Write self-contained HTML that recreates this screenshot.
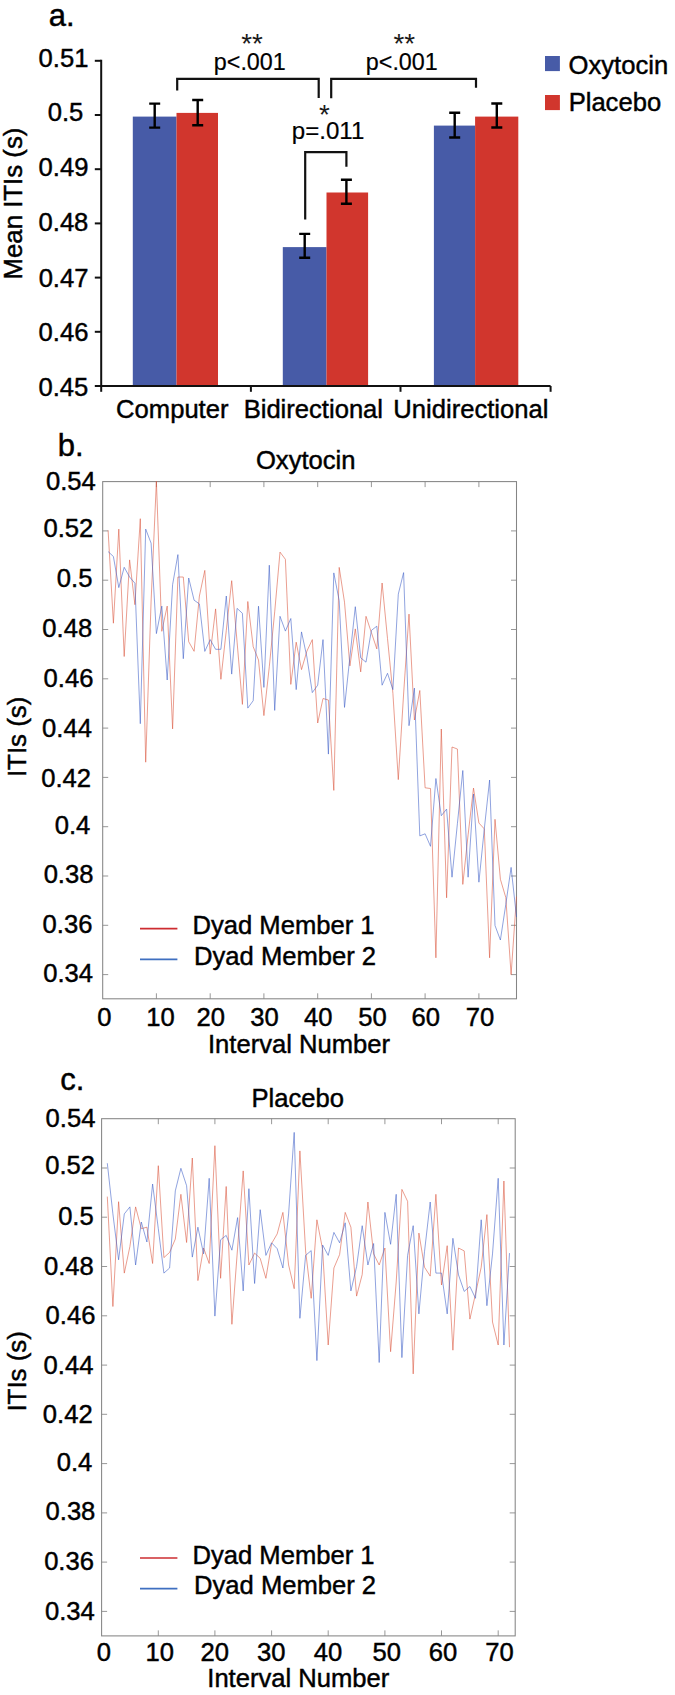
<!DOCTYPE html>
<html lang="en"><head><meta charset="utf-8"><title>Figure</title>
<style>html,body{margin:0;padding:0;background:#fff}svg{display:block}text{font-family:"Liberation Sans", Arial, Helvetica, sans-serif;fill:#000;stroke:#000;stroke-width:.45px}.m{stroke-width:.2px}.s{stroke:none;fill:#1a1a1a}</style></head><body>
<svg width="675" height="1695" viewBox="0 0 675 1695">
<rect width="675" height="1695" fill="#fff"/>
<g id="panel-a">
<text x="48.83" y="26.0" font-size="31">a.</text>
<rect x="132.8" y="116.6" width="43.7" height="269.4" fill="#475ba7"/>
<rect x="176.5" y="112.9" width="41.5" height="273.1" fill="#d1362d"/>
<rect x="282.8" y="247.1" width="43.7" height="138.9" fill="#475ba7"/>
<rect x="326.5" y="192.5" width="41.6" height="193.5" fill="#d1362d"/>
<rect x="433.9" y="125.6" width="41.2" height="260.4" fill="#475ba7"/>
<rect x="475.1" y="116.6" width="43.2" height="269.4" fill="#d1362d"/>
<path d="M154.7 103.6V127.6M149.2 103.6H160.2M149.2 127.6H160.2" stroke="#000" stroke-width="2.4" fill="none"/>
<path d="M197.7 100V125.3M192.2 100H203.2M192.2 125.3H203.2" stroke="#000" stroke-width="2.4" fill="none"/>
<path d="M304.7 233.9V257.8M299.2 233.9H310.2M299.2 257.8H310.2" stroke="#000" stroke-width="2.4" fill="none"/>
<path d="M346.4 179.7V203.7M340.9 179.7H351.9M340.9 203.7H351.9" stroke="#000" stroke-width="2.4" fill="none"/>
<path d="M454.7 112.8V137.5M449.2 112.8H460.2M449.2 137.5H460.2" stroke="#000" stroke-width="2.4" fill="none"/>
<path d="M496.8 103.5V127.5M491.3 103.5H502.3M491.3 127.5H502.3" stroke="#000" stroke-width="2.4" fill="none"/>
<path d="M101.2 59.8V386.0H550.6" stroke="#111" stroke-width="2" fill="none"/>
<path d="M94.8 386.0H101.2" stroke="#111" stroke-width="2"/>
<text x="38.53" y="395.5" font-size="25.6">0.45</text>
<path d="M94.8 331.8H101.2" stroke="#111" stroke-width="2"/>
<text x="38.55" y="341.0" font-size="25.6">0.46</text>
<path d="M94.8 277.6H101.2" stroke="#111" stroke-width="2"/>
<text x="38.63" y="286.6" font-size="25.6">0.47</text>
<path d="M94.8 223.4H101.2" stroke="#111" stroke-width="2"/>
<text x="38.54" y="230.9" font-size="25.6">0.48</text>
<path d="M94.8 169.2H101.2" stroke="#111" stroke-width="2"/>
<text x="38.59" y="175.8" font-size="25.6">0.49</text>
<path d="M94.8 115.0H101.2" stroke="#111" stroke-width="2"/>
<text x="47.69" y="121.0" font-size="25.6">0.5</text>
<path d="M94.8 60.8H101.2" stroke="#111" stroke-width="2"/>
<text x="38.61" y="66.9" font-size="25.6">0.51</text>
<path d="M101.2 386.0V391.8" stroke="#111" stroke-width="2"/>
<path d="M250.9 386.0V391.8" stroke="#111" stroke-width="2"/>
<path d="M400.5 386.0V391.8" stroke="#111" stroke-width="2"/>
<path d="M550.6 386.0V391.8" stroke="#111" stroke-width="2"/>
<text x="116.11" y="417.9" font-size="25.6">Computer</text>
<text x="243.63" y="417.9" font-size="25.6">Bidirectional</text>
<text x="393.37" y="417.9" font-size="25.6">Unidirectional</text>
<text transform="translate(21.8,279.5) rotate(-90)" font-size="25.8">Mean ITIs (s)</text>
<path d="M177.2 90.5V78.9H318.7V98" stroke="#111" stroke-width="2.2" fill="none"/>
<path d="M331.2 98.3V78.9H476V87.8" stroke="#111" stroke-width="2.2" fill="none"/>
<path d="M305.2 219.6V152.2H346.4V166.8" stroke="#111" stroke-width="2.2" fill="none"/>
<text x="252.1" y="52.8" font-size="27.8" text-anchor="middle" class="s">**</text>
<text x="249.8" y="69.6" font-size="24.5" class="m" text-anchor="middle" textLength="72" lengthAdjust="spacingAndGlyphs">p&lt;.001</text>
<text x="404.3" y="52.8" font-size="27.8" text-anchor="middle" class="s">**</text>
<text x="401.8" y="69.6" font-size="24.5" class="m" text-anchor="middle" textLength="72" lengthAdjust="spacingAndGlyphs">p&lt;.001</text>
<text x="324.3" y="124.4" font-size="27.8" text-anchor="middle" class="s">*</text>
<text x="328.1" y="138.6" font-size="24.5" class="m" text-anchor="middle" textLength="72.6" lengthAdjust="spacingAndGlyphs">p=.011</text>
<rect x="545" y="56" width="14.9" height="15.1" fill="#475ba7"/>
<rect x="545" y="95" width="14.9" height="15.1" fill="#d1362d"/>
<text x="568.58" y="73.6" font-size="25.6">Oxytocin</text>
<text x="568.63" y="110.9" font-size="25.6">Placebo</text>
</g>
<g id="panel-b">
<text x="57.69" y="456.4" font-size="31">b.</text>
<text x="255.93" y="468.6" font-size="25.6">Oxytocin</text>
<rect x="102.7" y="481.6" width="413.8" height="517.2" fill="none" stroke="#858585" stroke-width="1.05"/>
<path d="M102.7 530.9h5.5M516.5 530.9h-5.5" stroke="#858585" stroke-width="0.85"/>
<path d="M102.7 580.2h5.5M516.5 580.2h-5.5" stroke="#858585" stroke-width="0.85"/>
<path d="M102.7 629.5h5.5M516.5 629.5h-5.5" stroke="#858585" stroke-width="0.85"/>
<path d="M102.7 678.8h5.5M516.5 678.8h-5.5" stroke="#858585" stroke-width="0.85"/>
<path d="M102.7 728.1h5.5M516.5 728.1h-5.5" stroke="#858585" stroke-width="0.85"/>
<path d="M102.7 777.4h5.5M516.5 777.4h-5.5" stroke="#858585" stroke-width="0.85"/>
<path d="M102.7 826.7h5.5M516.5 826.7h-5.5" stroke="#858585" stroke-width="0.85"/>
<path d="M102.7 876.0h5.5M516.5 876.0h-5.5" stroke="#858585" stroke-width="0.85"/>
<path d="M102.7 925.3h5.5M516.5 925.3h-5.5" stroke="#858585" stroke-width="0.85"/>
<path d="M102.7 974.6h5.5M516.5 974.6h-5.5" stroke="#858585" stroke-width="0.85"/>
<text x="46.01" y="489.9" font-size="25.6">0.54</text>
<text x="43.43" y="536.7" font-size="25.6">0.52</text>
<text x="56.79" y="587.1" font-size="25.6">0.5</text>
<text x="42.34" y="636.9" font-size="25.6">0.48</text>
<text x="43.55" y="687.3" font-size="25.6">0.46</text>
<text x="42.11" y="737.1" font-size="25.6">0.44</text>
<text x="41.23" y="786.5" font-size="25.6">0.42</text>
<text x="54.78" y="833.5" font-size="25.6">0.4</text>
<text x="43.64" y="883.3" font-size="25.6">0.38</text>
<text x="42.60" y="932.8" font-size="25.6">0.36</text>
<text x="43.16" y="982.2" font-size="25.6">0.34</text>
<path d="M156.4 998.8v-5.5M156.4 481.6v5.5" stroke="#858585" stroke-width="0.85"/>
<path d="M210.2 998.8v-5.5M210.2 481.6v5.5" stroke="#858585" stroke-width="0.85"/>
<path d="M263.9 998.8v-5.5M263.9 481.6v5.5" stroke="#858585" stroke-width="0.85"/>
<path d="M317.7 998.8v-5.5M317.7 481.6v5.5" stroke="#858585" stroke-width="0.85"/>
<path d="M371.4 998.8v-5.5M371.4 481.6v5.5" stroke="#858585" stroke-width="0.85"/>
<path d="M425.1 998.8v-5.5M425.1 481.6v5.5" stroke="#858585" stroke-width="0.85"/>
<path d="M478.9 998.8v-5.5M478.9 481.6v5.5" stroke="#858585" stroke-width="0.85"/>
<text x="97.18" y="1026.4" font-size="25.6">0</text>
<text x="146.29" y="1026.4" font-size="25.6">10</text>
<text x="196.52" y="1026.4" font-size="25.6">20</text>
<text x="250.28" y="1026.4" font-size="25.6">30</text>
<text x="303.97" y="1026.4" font-size="25.6">40</text>
<text x="358.25" y="1026.4" font-size="25.6">50</text>
<text x="411.61" y="1026.4" font-size="25.6">60</text>
<text x="465.81" y="1026.4" font-size="25.6">70</text>
<polyline points="108.1,530.3 113.4,623.2 118.8,529.1 124.2,656.5 129.6,559.9 134.9,604.7 140.3,518.7 145.7,762.2 151.1,601.0 156.4,481.3 161.8,631.3 167.2,606.1 172.6,728.9 177.9,577.0 183.3,577.0 188.7,641.7 194.1,651.3 199.4,596.0 204.8,570.4 210.2,654.1 215.6,608.9 220.9,679.3 226.3,630.4 231.7,580.7 237.1,642.2 242.4,704.4 247.8,601.5 253.2,646.7 258.5,660.0 263.9,715.6 269.3,666.7 274.7,611.9 280.0,552.1 285.4,559.3 290.8,684.4 296.2,642.2 301.5,669.6 306.9,651.1 312.3,639.6 317.7,723.0 323.0,698.5 328.4,700.0 333.8,790.4 339.2,567.4 344.5,602.2 349.9,665.9 355.3,628.9 360.7,671.9 366.0,616.3 371.4,632.6 376.8,648.9 382.1,583.0 387.5,638.5 392.9,693.3 398.3,779.6 403.6,694.0 409.0,614.1 414.4,720.0 419.8,690.5 425.1,787.8 430.5,788.5 435.9,957.8 441.3,729.0 446.6,897.8 452.0,747.0 457.4,749.0 462.8,884.4 468.1,834.8 473.5,788.1 478.9,823.0 484.3,828.9 489.6,957.8 495.0,819.3 500.4,879.3 505.8,897.5 511.1,974.6 516.5,896.6" fill="none" stroke="#db573f" stroke-width="0.58" stroke-linejoin="miter"/>
<polyline points="108.1,551.6 113.4,556.5 118.8,587.6 124.2,567.3 129.6,577.0 134.9,583.2 140.3,723.7 145.7,529.1 151.1,543.2 156.4,633.6 161.8,606.1 167.2,680.0 172.6,584.7 177.9,554.6 183.3,658.7 188.7,578.0 194.1,600.2 199.4,603.9 204.8,651.4 210.2,639.6 215.6,649.3 220.9,649.3 226.3,596.0 231.7,674.1 237.1,608.4 242.4,613.3 247.8,708.1 253.2,700.7 258.5,606.2 263.9,687.4 269.3,565.2 274.7,710.4 280.0,616.3 285.4,631.1 290.8,618.5 296.2,689.6 301.5,631.9 306.9,657.0 312.3,692.6 317.7,685.2 323.0,639.6 328.4,754.1 333.8,572.9 339.2,600.7 344.5,707.4 349.9,657.0 355.3,606.7 360.7,657.8 366.0,662.2 371.4,630.4 376.8,626.2 382.1,685.2 387.5,673.3 392.9,689.6 398.3,594.1 403.6,572.6 409.0,725.7 414.4,688.1 419.8,835.9 425.1,833.8 430.5,846.3 435.9,778.5 441.3,815.7 446.6,809.1 452.0,877.2 457.4,823.7 462.8,770.5 468.1,877.2 473.5,794.0 478.9,882.2 484.3,828.9 489.6,780.0 495.0,925.5 500.4,940.0 505.8,904.4 511.1,867.4 516.5,917.0" fill="none" stroke="#3f60c8" stroke-width="0.58" stroke-linejoin="miter"/>
<text x="207.97" y="1052.6" font-size="25.6">Interval Number</text>
<text transform="translate(26.2,777.1) rotate(-90)" font-size="25.9">ITIs (s)</text>
<path d="M140 928.6H177.4" stroke="#cd2c31" stroke-width="1.6"/>
<path d="M140 959.4H177.4" stroke="#3f6fc0" stroke-width="1.6"/>
<text x="192.52" y="934.4" font-size="25.6">Dyad Member 1</text>
<text x="194.04" y="965.0" font-size="25.6">Dyad Member 2</text>
</g>
<g id="panel-c">
<text x="60.25" y="1090.4" font-size="31">c.</text>
<text x="251.43" y="1107.0" font-size="25.6">Placebo</text>
<rect x="101.6" y="1118.7" width="413.6" height="517.2" fill="none" stroke="#858585" stroke-width="1.05"/>
<path d="M101.6 1168.0h5.5M515.2 1168.0h-5.5" stroke="#858585" stroke-width="0.85"/>
<path d="M101.6 1217.2h5.5M515.2 1217.2h-5.5" stroke="#858585" stroke-width="0.85"/>
<path d="M101.6 1266.5h5.5M515.2 1266.5h-5.5" stroke="#858585" stroke-width="0.85"/>
<path d="M101.6 1315.8h5.5M515.2 1315.8h-5.5" stroke="#858585" stroke-width="0.85"/>
<path d="M101.6 1365.1h5.5M515.2 1365.1h-5.5" stroke="#858585" stroke-width="0.85"/>
<path d="M101.6 1414.3h5.5M515.2 1414.3h-5.5" stroke="#858585" stroke-width="0.85"/>
<path d="M101.6 1463.6h5.5M515.2 1463.6h-5.5" stroke="#858585" stroke-width="0.85"/>
<path d="M101.6 1512.9h5.5M515.2 1512.9h-5.5" stroke="#858585" stroke-width="0.85"/>
<path d="M101.6 1562.1h5.5M515.2 1562.1h-5.5" stroke="#858585" stroke-width="0.85"/>
<path d="M101.6 1611.4h5.5M515.2 1611.4h-5.5" stroke="#858585" stroke-width="0.85"/>
<text x="45.56" y="1126.6" font-size="25.6">0.54</text>
<text x="45.23" y="1173.6" font-size="25.6">0.52</text>
<text x="58.14" y="1224.6" font-size="25.6">0.5</text>
<text x="43.94" y="1275.3" font-size="25.6">0.48</text>
<text x="45.55" y="1324.4" font-size="25.6">0.46</text>
<text x="43.61" y="1374.0" font-size="25.6">0.44</text>
<text x="42.83" y="1423.4" font-size="25.6">0.42</text>
<text x="56.73" y="1470.6" font-size="25.6">0.4</text>
<text x="45.54" y="1520.1" font-size="25.6">0.38</text>
<text x="44.15" y="1569.7" font-size="25.6">0.36</text>
<text x="44.96" y="1619.6" font-size="25.6">0.34</text>
<path d="M158.3 1635.9v-5.5M158.3 1118.7v5.5" stroke="#858585" stroke-width="0.85"/>
<path d="M214.9 1635.9v-5.5M214.9 1118.7v5.5" stroke="#858585" stroke-width="0.85"/>
<path d="M271.6 1635.9v-5.5M271.6 1118.7v5.5" stroke="#858585" stroke-width="0.85"/>
<path d="M328.2 1635.9v-5.5M328.2 1118.7v5.5" stroke="#858585" stroke-width="0.85"/>
<path d="M384.9 1635.9v-5.5M384.9 1118.7v5.5" stroke="#858585" stroke-width="0.85"/>
<path d="M441.5 1635.9v-5.5M441.5 1118.7v5.5" stroke="#858585" stroke-width="0.85"/>
<path d="M498.2 1635.9v-5.5M498.2 1118.7v5.5" stroke="#858585" stroke-width="0.85"/>
<text x="96.68" y="1661.4" font-size="25.6">0</text>
<text x="145.59" y="1661.4" font-size="25.6">10</text>
<text x="200.62" y="1661.4" font-size="25.6">20</text>
<text x="256.97" y="1661.4" font-size="25.6">30</text>
<text x="313.67" y="1661.4" font-size="25.6">40</text>
<text x="372.45" y="1661.4" font-size="25.6">50</text>
<text x="428.71" y="1661.4" font-size="25.6">60</text>
<text x="485.31" y="1661.4" font-size="25.6">70</text>
<polyline points="107.3,1196.6 112.9,1306.5 118.6,1201.7 124.3,1273.1 129.9,1246.5 135.6,1206.9 141.3,1228.7 146.9,1227.2 152.6,1263.5 158.3,1165.7 163.9,1257.6 169.6,1252.4 175.3,1239.1 180.9,1194.3 186.6,1242.5 192.3,1158.0 197.9,1280.6 203.6,1248.0 209.2,1263.5 214.9,1145.7 220.6,1278.3 226.2,1186.5 231.9,1324.3 237.6,1248.0 243.2,1170.9 248.9,1265.0 254.6,1253.1 260.2,1258.3 265.9,1278.3 271.6,1243.5 277.2,1233.9 282.9,1212.4 288.6,1265.0 294.2,1288.7 299.9,1150.9 305.6,1250.9 311.2,1298.3 316.9,1219.8 322.6,1249.4 328.2,1345.0 333.9,1268.0 339.6,1254.6 345.2,1212.4 350.9,1227.2 356.6,1296.1 362.2,1274.6 367.9,1202.0 373.6,1253.9 379.2,1265.0 384.9,1248.0 390.6,1351.7 396.2,1282.0 401.9,1189.4 407.6,1201.3 413.2,1373.9 418.9,1233.1 424.5,1267.2 430.2,1276.1 435.9,1194.3 441.5,1285.0 447.2,1245.7 452.9,1350.2 458.5,1248.0 464.2,1250.9 469.9,1319.1 475.5,1293.9 481.2,1267.2 486.9,1214.6 492.5,1322.0 498.2,1345.0 503.9,1181.0 509.5,1347.2" fill="none" stroke="#db573f" stroke-width="0.58" stroke-linejoin="miter"/>
<polyline points="107.3,1163.2 112.9,1213.9 118.6,1259.8 124.3,1213.9 129.9,1206.9 135.6,1265.0 141.3,1222.0 146.9,1242.0 152.6,1184.0 158.3,1228.7 163.9,1273.1 169.6,1268.0 175.3,1190.9 180.9,1168.3 186.6,1185.7 192.3,1257.1 197.9,1227.2 203.6,1253.9 209.2,1178.3 214.9,1316.1 220.6,1239.8 226.2,1235.4 231.9,1250.2 237.6,1217.6 243.2,1290.9 248.9,1188.7 254.6,1283.5 260.2,1209.7 265.9,1255.4 271.6,1242.8 277.2,1248.7 282.9,1268.0 288.6,1213.9 294.2,1132.4 299.9,1318.3 305.6,1255.4 311.2,1250.6 316.9,1360.6 322.6,1245.0 328.2,1255.4 333.9,1232.4 339.6,1242.8 345.2,1222.8 350.9,1290.9 356.6,1266.5 362.2,1225.7 367.9,1265.0 373.6,1243.5 379.2,1362.5 384.9,1212.4 390.6,1244.3 396.2,1194.3 401.9,1357.6 407.6,1255.4 413.2,1225.7 418.9,1313.9 424.5,1251.7 430.2,1202.0 435.9,1273.1 441.5,1273.1 447.2,1313.9 452.9,1238.3 458.5,1274.9 464.2,1291.4 469.9,1286.5 475.5,1298.3 481.2,1219.8 486.9,1305.7 492.5,1253.9 498.2,1178.3 503.9,1345.0 509.5,1253.1" fill="none" stroke="#3f60c8" stroke-width="0.58" stroke-linejoin="miter"/>
<text x="207.28" y="1686.6" font-size="25.6">Interval Number</text>
<text transform="translate(26.2,1411.6) rotate(-90)" font-size="25.9">ITIs (s)</text>
<path d="M140 1558H177.4" stroke="#cd2c31" stroke-width="1.6"/>
<path d="M140 1588.6H177.4" stroke="#3f6fc0" stroke-width="1.6"/>
<text x="192.52" y="1563.6" font-size="25.6">Dyad Member 1</text>
<text x="194.04" y="1594.0" font-size="25.6">Dyad Member 2</text>
</g>
</svg></body></html>
